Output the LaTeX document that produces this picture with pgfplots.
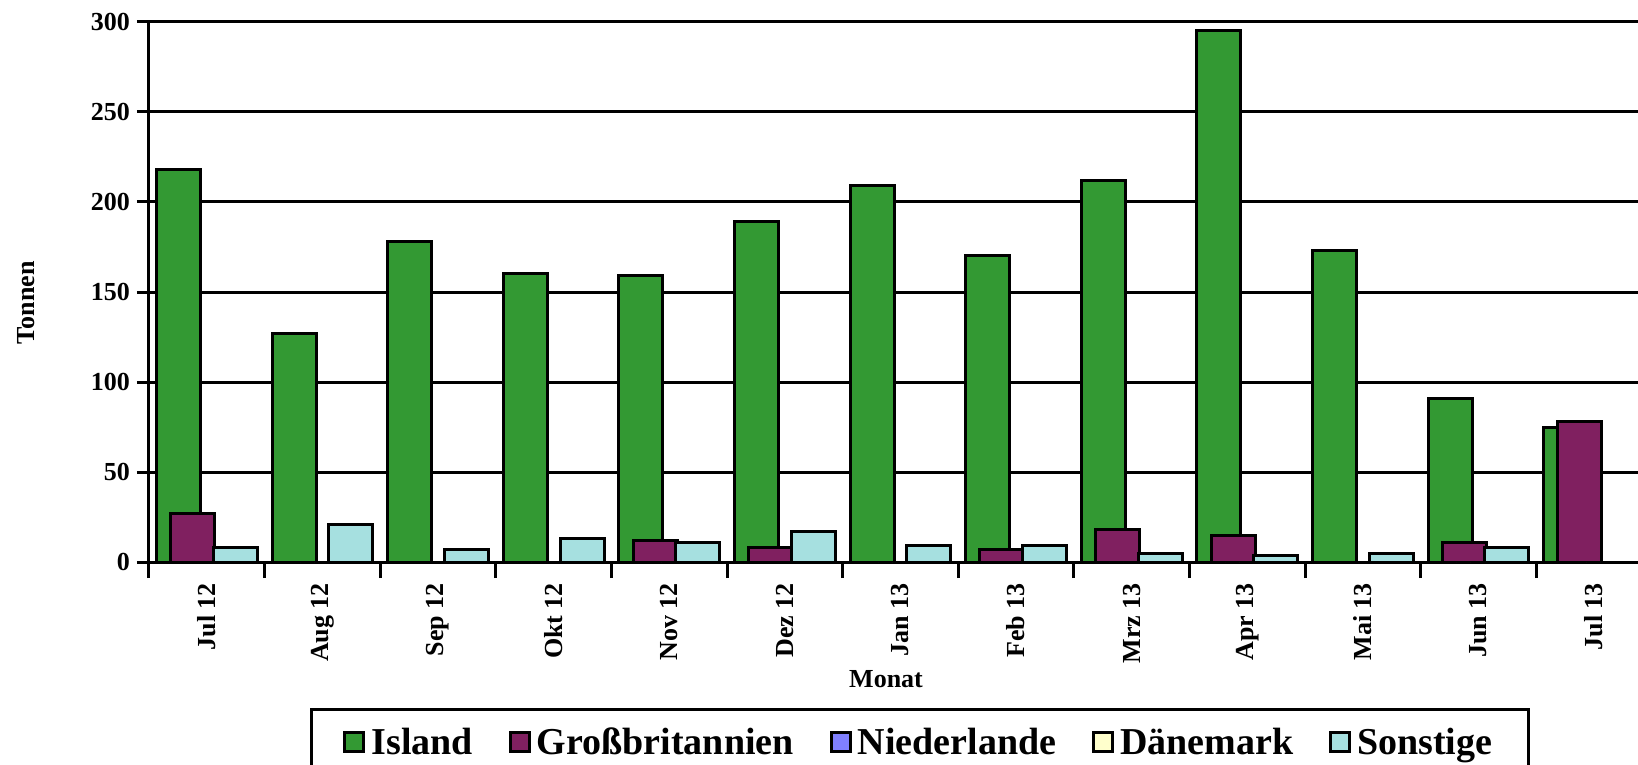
\documentclass[border=0pt]{standalone}
\usepackage{pgfplots}
\pgfplotsset{compat=1.18}
\usepackage{fontspec}
\setmainfont{Liberation Serif}

\definecolor{island}{RGB}{51,153,51}
\definecolor{gb}{RGB}{128,32,96}
\definecolor{nl}{RGB}{128,128,255}
\definecolor{dk}{RGB}{255,255,204}
\definecolor{sonst}{RGB}{166,224,224}

\begin{document}
\begin{tikzpicture}
\useasboundingbox (-74.5pt,-101.5pt) rectangle (744.5pt,281pt);
\begin{axis}[
    scale only axis,
    width=744.5pt, height=270pt,
    ybar, bar width=22pt,
    xmin=-0.5, xmax=12.38,
    ymin=0, ymax=300,
    ytick={0,50,...,300},
    xtick={0,...,12},
    xticklabels={Jul 12,Aug 12,Sep 12,Okt 12,Nov 12,Dez 12,Jan 13,Feb 13,Mrz 13,Apr 13,Mai 13,Jun 13,Jul 13},
    minor xtick={-0.5,0.5,...,12.5},
    major x tick style={draw=none},
    tick style={black, line width=1.5pt},
    major tick length=6pt, minor tick length=8pt,
    tick align=outside,
    axis x line*=bottom, axis y line*=left,
    axis line style={-, black, line width=1.5pt},
    ymajorgrids,
    major grid style={black, line width=1.5pt},
    /pgf/number format/assume math mode=true,
    ticklabel style={font=\fontsize{13}{15}\selectfont\bfseries},
    xticklabel style={rotate=90, anchor=east, xshift=-1pt},
    xlabel={Monat},
    ylabel={Tonnen},
    label style={font=\fontsize{13}{15}\selectfont\bfseries},
    xlabel style={at={(axis description cs:0.495,0)}, anchor=center, yshift=-58.5pt},
    ylabel style={at={(axis description cs:-0.0826,0.48)}, anchor=center},
    every axis plot/.append style={draw=black, line width=1.5pt},
    legend columns=5,
    legend style={
        at={(0.1081,-0.2704)}, anchor=north west,
        draw=black, line width=1.5pt,
        font=\fontsize{19}{22}\selectfont\bfseries,
        inner xsep=16pt, inner ysep=7pt,
        /tikz/every odd column/.append style={column sep=1pt},
        /tikz/every even column/.append style={column sep=16pt},
    },
    legend image code/.code={\draw[#1, line width=1.5pt] (0pt,-4.75pt) rectangle (9.5pt,4.75pt);},
]
\addplot[fill=island, bar shift=-14.2pt] coordinates {
  (0,218) (1,127) (2,178) (3,160) (4,159) (5,189) (6,209)
  (7,170) (8,212) (9,295) (10,173) (11,91) (12,75) };
\addplot[fill=gb, bar shift=-7.1pt] coordinates {
  (0,27) (1,0) (2,0) (3,0) (4,12) (5,8) (6,0)
  (7,7) (8,18) (9,15) (10,0) (11,11) (12,78) };
\addplot[fill=nl, bar shift=0pt] coordinates {
  (0,0) (1,0) (2,0) (3,0) (4,0) (5,0) (6,0)
  (7,0) (8,0) (9,0) (10,0) (11,0) (12,0) };
\addplot[fill=dk, bar shift=7.1pt] coordinates {
  (0,0) (1,0) (2,0) (3,0) (4,0) (5,0) (6,0)
  (7,0) (8,0) (9,0) (10,0) (11,0) (12,0) };
\addplot[fill=sonst, bar shift=14.2pt] coordinates {
  (0,8) (1,21) (2,7) (3,13) (4,11) (5,17) (6,9)
  (7,9) (8,5) (9,3.5) (10,5) (11,8) (12,0) };
\legend{Island, Großbritannien, Niederlande, Dänemark, Sonstige}
\end{axis}
\end{tikzpicture}
\end{document}
